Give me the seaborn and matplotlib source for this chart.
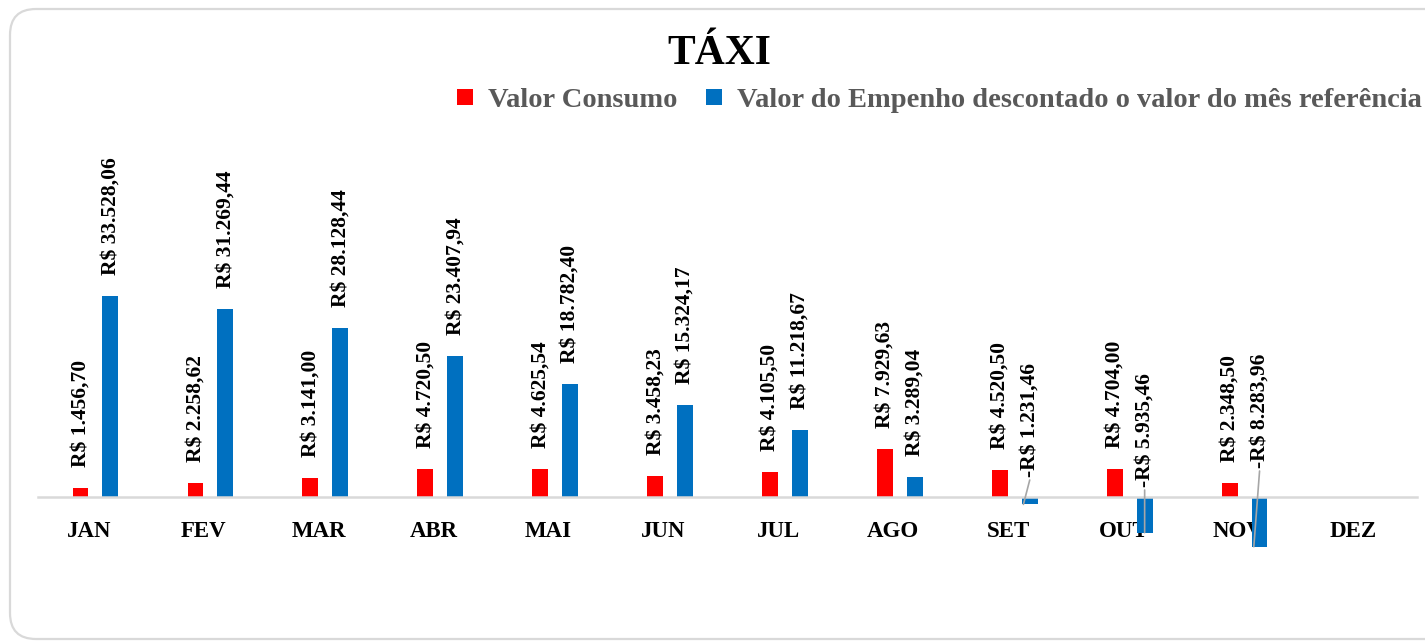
import numpy as np
import pandas as pd
import matplotlib
matplotlib.use("Agg")
import matplotlib.pyplot as plt
import matplotlib.transforms as mtransforms
from matplotlib.patches import FancyBboxPatch
from matplotlib.lines import Line2D
import seaborn as sns

# ---- data ----
months = ["JAN", "FEV", "MAR", "ABR", "MAI", "JUN", "JUL", "AGO", "SET", "OUT", "NOV", "DEZ"]
consumo = [1456.70, 2258.62, 3141.00, 4720.50, 4625.54, 3458.23, 4105.50, 7929.63,
           4520.50, 4704.00, 2348.50, np.nan]
empenho = [33528.06, 31269.44, 28128.44, 23407.94, 18782.40, 15324.17, 11218.67, 3289.04,
           -1231.46, -5935.46, -8283.96, np.nan]
serie_consumo = "Valor Consumo"
serie_empenho = "Valor do Empenho descontado o valor do mês referência"
title = "TÁXI"

colors = {serie_consumo: "#FF0000", serie_empenho: "#0070C0"}

df = pd.concat([
    pd.DataFrame({"mes": months, "valor": consumo, "serie": serie_consumo}),
    pd.DataFrame({"mes": months, "valor": empenho, "serie": serie_empenho}),
], ignore_index=True).dropna()


def brl(v):
    s = f"{abs(v):,.2f}".replace(",", "X").replace(".", ",").replace("X", ".")
    return ("-R$ " if v < 0 else "R$ ") + s


sns.set_theme(style="white")
plt.rcParams["font.family"] = ["Liberation Serif", "DejaVu Serif"]
plt.rcParams["font.weight"] = "bold"

W, H, DPI = 1425, 641, 100
fig = plt.figure(figsize=(W / DPI, H / DPI), dpi=DPI)

# rounded outer frame, in pixel coordinates
frame = FancyBboxPatch((10, 2), 1450, 630, boxstyle="round,pad=0,rounding_size=26",
                       transform=mtransforms.IdentityTransform(),
                       facecolor="white", edgecolor="#D9D9D9", linewidth=1.6, zorder=0)
fig.add_artist(frame)

ax_left, ax_right = 38, 1417
ax_top, ax_bottom = 130, 610
ax = fig.add_axes([ax_left / W, 1 - ax_bottom / H, (ax_right - ax_left) / W, (ax_bottom - ax_top) / H])
ax.patch.set_alpha(0)

sns.barplot(data=df, x="mes", y="valor", hue="serie", order=months,
            hue_order=[serie_consumo, serie_empenho], palette=colors, saturation=1,
            width=0.52, gap=0.47, errorbar=None, legend=False, linewidth=0, ax=ax)

ax.set_xlim(-0.5, len(months) - 0.5)
ax.set_ylim(-18826, 61142)
for name, sp in ax.spines.items():
    sp.set_visible(name == "bottom")
ax.spines["bottom"].set_position(("data", 0))
ax.spines["bottom"].set_color("#D9D9D9")
ax.spines["bottom"].set_linewidth(1.8)
ax.spines["bottom"].set_zorder(1)
ax.set_yticks([])
ax.set_xlabel("")
ax.set_ylabel("")
ax.tick_params(axis="x", length=0, pad=17)
ax.set_xticks(range(len(months)))
ax.set_xticklabels(months, fontsize=16.5, fontweight="bold", color="black")
shift = mtransforms.ScaledTranslation(-6.5 / DPI, 0, fig.dpi_scale_trans)
for lbl in ax.get_xticklabels():
    lbl.set_transform(lbl.get_transform() + shift)
    lbl.set_zorder(0.5)

# value labels; negative bars get a lifted label with a leader line
neg_layout = {"SET": (20, -0.055), "OUT": (10, 0.0), "NOV": (29, -0.05)}
label_kw = dict(rotation=90, ha="center", va="bottom", fontsize=15.5,
                fontweight="bold", color="black")
for cont in ax.containers:
    for p in cont.patches:
        v = p.get_height()
        if np.isnan(v):
            continue
        xc = p.get_x() + p.get_width() / 2
        idx = int(round(xc))
        if v >= 0:
            ax.annotate(brl(v), (xc, v), xytext=(0, 21), textcoords="offset pixels", **label_kw)
        else:
            lift, dx = neg_layout.get(months[idx], (20, 0.0))
            ax.annotate(brl(v), (xc, 0), xytext=(0, lift), textcoords="offset pixels", **label_kw)
            start = mtransforms.offset_copy(ax.transData, fig=fig, x=0, y=lift - 3, units="dots")
            ax.annotate("", xy=(xc + dx, v), xycoords="data", xytext=(xc, 0), textcoords=start,
                        arrowprops=dict(arrowstyle="-", color="#A6A6A6", lw=1.2,
                                        shrinkA=0, shrinkB=0))

fig.text(719 / W, 1 - 54 / H, title, ha="center", va="center", fontsize=30,
         fontweight="bold", color="black")

handles = [Line2D([], [], linestyle="none", marker="s", markersize=11,
                  markerfacecolor=colors[s], markeredgewidth=0) for s in (serie_consumo, serie_empenho)]
leg = fig.legend(handles, [serie_consumo, serie_empenho], loc="center",
                 bbox_to_anchor=(939 / W, 1 - 100 / H), ncol=2, frameon=False,
                 handlelength=0.6, handletextpad=0.5, columnspacing=1.0,
                 prop={"family": "Liberation Serif", "weight": "bold", "size": 20.5})
for t in leg.get_texts():
    t.set_color("#595959")

fig.savefig("out.png", dpi=DPI)
